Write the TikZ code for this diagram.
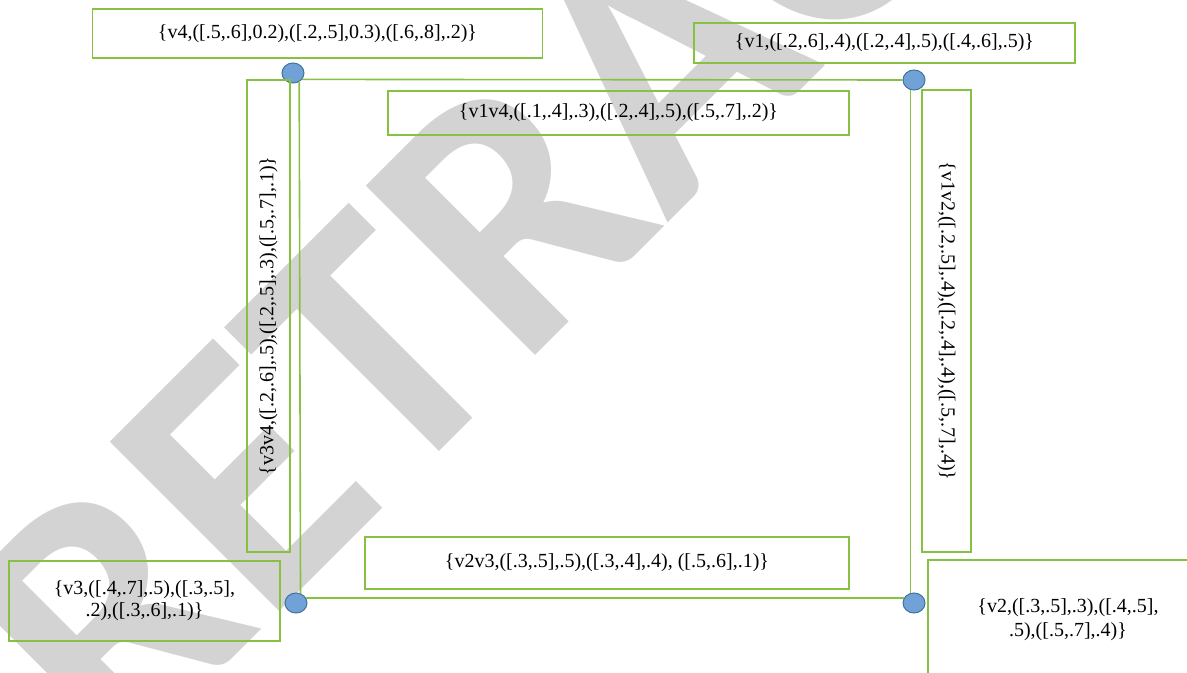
\documentclass[tikz,border=0pt]{standalone}
\usepackage{fontspec}
\setmainfont{Liberation Serif}
\newfontfamily\markfont{Carlito}
\usetikzlibrary{shapes.geometric}
\definecolor{edgegreen}{RGB}{134,193,66}
\definecolor{vertfill}{RGB}{112,162,215}
\definecolor{vertline}{RGB}{65,113,156}
\definecolor{markgray}{RGB}{211,211,211}
\tikzset{
  lab/.style={draw=edgegreen, line width=0.8pt, inner sep=0pt, align=center, font=\fontsize{15}{18}\selectfont},
  vert/.style={ellipse, draw=vertline, fill=vertfill, line width=0.75pt, minimum width=16.5pt, minimum height=15pt, inner sep=0pt},
  edge/.style={draw=edgegreen, line width=1.2pt},
}
\begin{document}
\begin{tikzpicture}[x=0.75pt,y=0.75pt,yscale=-1,xscale=1]
	\useasboundingbox (0,0) rectangle (1187,673);
	\clip (0,0) rectangle (1187,673);
	
	% Watermark
	\node [anchor=base west, rotate=45, inner sep=0pt, text=markgray, font=\markfont\bfseries\fontsize{277}{277}\selectfont] (retr) at (117,774) {RETRACTED};
	
	%Shape: Vertices
	\node [vert] (v4) at (293,73) {};
	\node [vert] (v1) at (914,80) {};
	\node [vert] (v3) at (296,603) {};
	\node [vert] (v2) at (914,603) {};
	
	%Straight Lines: Edges
	\draw [edge] (v4.-35) -- (v1.180);
	\draw [edge] (v4.-55) -- (v3.65);
	\draw [edge] (v3.25) -- (v2.155);
	\draw [edge] (v1.-110) -- (v2.110);
	
	% Text Node
	\node [lab, minimum width=338pt, minimum height=36.75pt] (v4lab) at (317.5,33.5) {\{v4,([.5,.6],0.2),([.2,.5],0.3),([.6,.8],.2)\}};
	% Text Node
	\node [lab, minimum width=285.75pt, minimum height=30pt] (v1lab) at (884.5,43) {\{v1,([.2,.6],.4),([.2,.4],.5),([.4,.6],.5)\}};
	% Text Node
	\node [lab, minimum width=345.75pt, minimum height=33pt] (v1v4lab) at (618.5,113) {\{v1v4,([.1,.4],.3),([.2,.4],.5),([.5,.7],.2)\}};
	% Text Node
	\node [lab, rotate=90, minimum width=354pt, minimum height=32.25pt] (v3v4lab) at (268.5,316) {\{v3v4,([.2,.6],.5),([.2,.5],.3),([.5,.7],.1)\}};
	% Text Node
	\node [lab, rotate=-90, minimum width=346.5pt, minimum height=36.75pt] (v1v2lab) at (946.5,321) {\{v1v2,([.2,.5],.4),([.2,.4],.4),([.5,.7],.4)\}};
	% Text Node
	\node [lab, minimum width=363pt, minimum height=39pt] (v2v3lab) at (607,563) {\{v2v3,([.3,.5],.5),([.3,.4],.4), ([.5,.6],.1)\}};
	% Text Node
	\node [lab, font=\fontsize{15}{16.5}\selectfont, minimum width=203.25pt, minimum height=60pt] (v3lab) at (144.5,601) {\{v3,([.4,.7],.5),([.3,.5],\\.2),([.3,.6],.1)\}};
	% Text Node
	\node [lab, minimum width=210pt, minimum height=90pt] (v2lab) at (1068,620) {\{v2,([.3,.5],.3),([.4,.5],\\.5),([.5,.7],.4)\}};
	
\end{tikzpicture}
\end{document}
